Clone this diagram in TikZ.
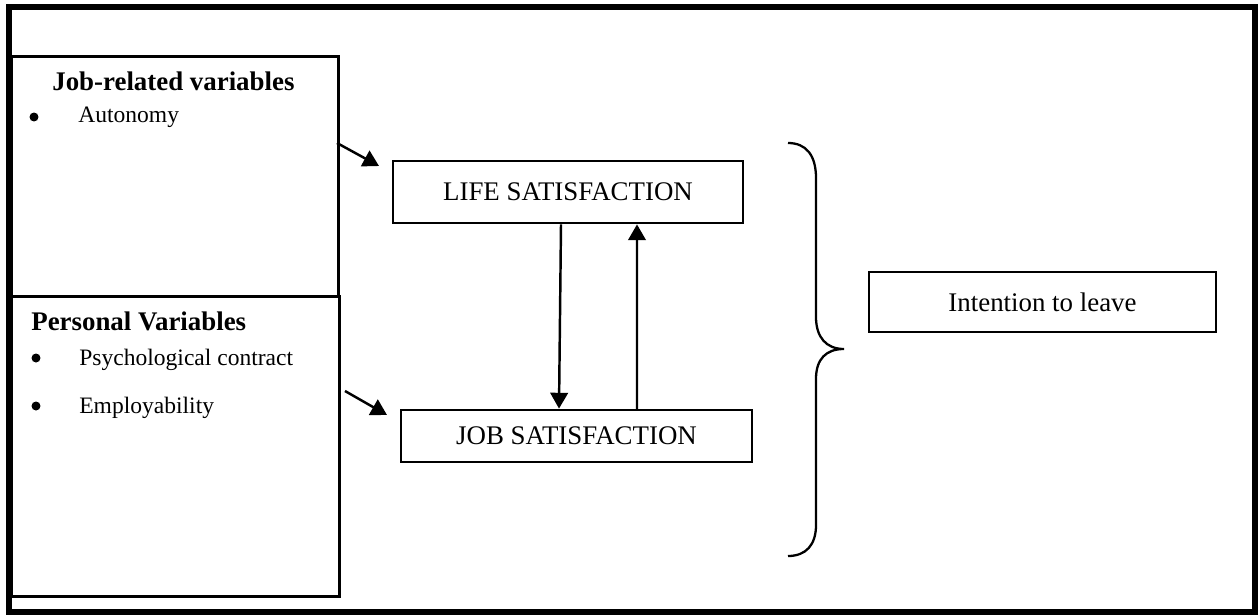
\documentclass[tikz,border=0pt]{standalone}
\usepackage{fontspec}
\setmainfont{Liberation Serif}
\usepackage{tikz}
\usetikzlibrary{arrows.meta,positioning,calc}
\tikzset{
    modelbox/.style={draw, line width=1.6pt, inner sep=0pt, font=\fontsize{15.3}{18}\selectfont},
    modelvars/.style={draw, line width=1.6pt, inner sep=0pt, anchor=north west},
    modeltext/.style={font=\fontsize{13.4}{16}\selectfont, inner sep=0pt, anchor=base west},
    modelhead/.style={font=\fontsize{15.3}{18}\selectfont\bfseries, inner sep=0pt, anchor=base west},
    modeldot/.style={circle, fill, inner sep=0pt, minimum size=0.18cm},
    modelarrow/.style={-{Triangle[length=9pt,width=10pt]}, line width=1.4pt},
    modelline/.style={line width=1.3pt}
}
\begin{document}
\begin{tikzpicture}[x=0.02cm, y=-0.02cm]
        \useasboundingbox (0,0) rectangle (1258,615);
        \draw[line width=3.4pt] (9,7) rectangle (1255,612);

        \node[modelvars, minimum width=6.54cm, minimum height=4.8cm] (jobvars) at (10,55) {};
        \node[modelvars, minimum width=6.56cm, minimum height=6cm] (persvars) at (10,295) {};

        \node[modelhead] (jobhead) at (52,91) {Job-related variables};
        \node[modeldot] (autobul) at (34,117) {};
        \node[modeltext] (auto) at (78,123) {Autonomy};

        \node[modelhead] (pershead) at (31,330) {Personal Variables};
        \node[modeldot] (psybul) at (36,358) {};
        \node[modeltext] (psy) at (79,365) {Psychological contract};
        \node[modeldot] (empbul) at (36,406) {};
        \node[modeltext] (emp) at (79,413) {Employability};

        \node[modelbox, minimum width=7cm, minimum height=1.24cm] (life) at (568,192) {LIFE SATISFACTION};
        \node[modelbox, minimum width=7.02cm, minimum height=1.04cm] (job) at (576.5,436) {JOB SATISFACTION};
        \node[modelbox, minimum width=6.94cm, minimum height=1.2cm] (leave) at (1042.5,302) {Intention to leave};

        \coordinate (jobout) at (337,143);
        \coordinate (lifein) at (379,166);
        \coordinate (persout) at (345,391);
        \coordinate (jobin) at (387,415);

        \draw[modelarrow] (jobout) -- (lifein);
        \draw[modelarrow] (persout) -- (jobin);
        \draw[modelarrow] ($(life.south)+(-7,0)$) -- ($(job.north)+(-17.5,0)$);
        \draw[modelarrow] ($(job.north)+(60.5,2)$) -- ($(life.south)+(69,0)$);

        % brace
        \draw[modelline] (788,143) .. controls (806,143) and (816,155) .. (816,178) -- (816,317)
            .. controls (816,337) and (826,349) .. (844,349)
            .. controls (826,349) and (816,359) .. (816,379) -- (816,525)
            .. controls (816,545) and (806,556) .. (788,556);
    \end{tikzpicture}
\end{document}
